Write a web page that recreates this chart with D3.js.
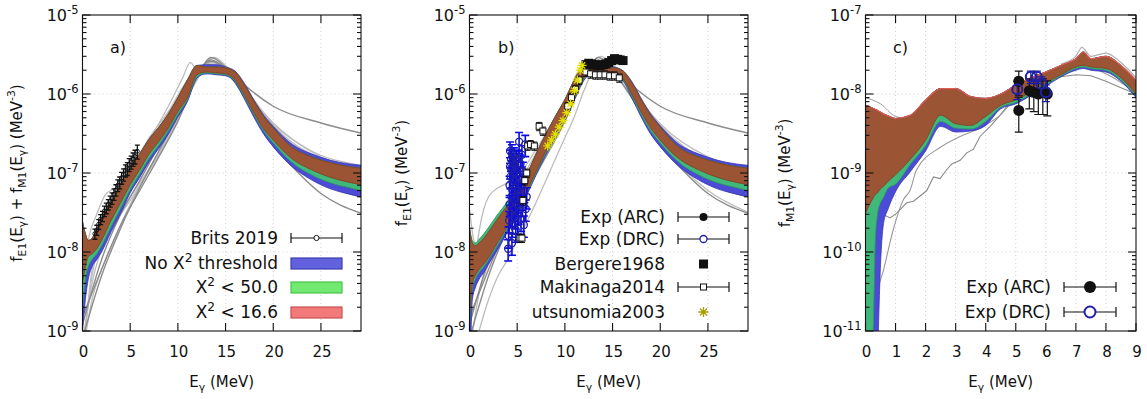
<!DOCTYPE html>
<html>
<head>
<meta charset="utf-8">
<script src="https://cdn.jsdelivr.net/npm/d3@7"></script>
<style>
  body { margin: 0; background: #fff; }
  text { font-family: "DejaVu Sans", Verdana, sans-serif; fill: #111; }
</style>
</head>
<body>
<svg id="chart" width="1147" height="399"></svg>
<script>
// ---------------- panel a) fE1 + fM1 ----------------
const energyAB = [0,0.3,0.6,1,1.5,2,3,4,5,6,7,8,9,10,11,12,13,14,15,16,17,18,19,20,22,24,26,28,29.2];

const redHiA   = [2.4e-8,1.7e-8,1.4e-8,1.5e-8,1.9e-8,2.6e-8,4.2e-8,6.8e-8,1.15e-7,1.75e-7,2.7e-7,3.8e-7,5.6e-7,9.0e-7,1.5e-6,2.3e-6,2.2e-6,2.2e-6,2.15e-6,1.9e-6,1.3e-6,8.0e-7,5.2e-7,3.7e-7,2.1e-7,1.6e-7,1.35e-7,1.2e-7,1.15e-7];
const redLoA   = [4.0e-9,6.5e-9,8.7e-9,9.5e-9,1.1e-8,1.4e-8,2.5e-8,4.2e-8,7.1e-8,1.1e-7,1.75e-7,2.5e-7,3.7e-7,6.0e-7,9.0e-7,1.75e-6,1.9e-6,1.85e-6,1.8e-6,1.5e-6,9.5e-7,5.7e-7,3.6e-7,2.6e-7,1.5e-7,1.1e-7,8.8e-8,7.6e-8,7.1e-8];
const greenHiA = redHiA;
const greenLoA = [2.0e-9,4.5e-9,6.5e-9,8.0e-9,9.5e-9,1.2e-8,2.1e-8,3.6e-8,6.2e-8,9.7e-8,1.55e-7,2.25e-7,3.4e-7,5.5e-7,8.5e-7,1.65e-6,1.85e-6,1.8e-6,1.75e-6,1.45e-6,9.0e-7,5.4e-7,3.4e-7,2.4e-7,1.35e-7,9.5e-8,7.5e-8,6.5e-8,6.0e-8];
const blueHiA  = [2.4e-8,1.7e-8,1.4e-8,1.5e-8,1.9e-8,2.6e-8,4.2e-8,6.8e-8,1.15e-7,1.75e-7,2.7e-7,3.8e-7,5.6e-7,9.0e-7,1.5e-6,2.3e-6,2.35e-6,2.35e-6,2.2e-6,1.95e-6,1.35e-6,8.3e-7,5.4e-7,3.9e-7,2.3e-7,1.75e-7,1.45e-7,1.3e-7,1.25e-7];
const blueLoA  = [1.0e-9,2.5e-9,4.5e-9,6.5e-9,8.0e-9,1.0e-8,1.8e-8,3.1e-8,5.6e-8,8.8e-8,1.4e-7,2.05e-7,3.1e-7,5.1e-7,8.0e-7,1.6e-6,1.8e-6,1.75e-6,1.7e-6,1.4e-6,8.5e-7,5.0e-7,3.1e-7,2.15e-7,1.2e-7,8.2e-8,6.3e-8,5.4e-8,5.0e-8];

// model curves drawn in grey  [E, f]
const greyA1 = [[0,1.5e-9],[2,6e-9],[4,2.2e-8],[6,6e-8],[8,1.6e-7],[10,4.5e-7],[12,1.6e-6],[13.5,2.9e-6],[15,2.2e-6],[17,1.3e-6],[20,7.0e-7],[25,4.3e-7],[29.2,3.2e-7]];
const greyA2 = [[0,8e-10],[2,5e-9],[4,2e-8],[6,6.5e-8],[8,1.9e-7],[10,5.5e-7],[12,1.8e-6],[13.5,2.7e-6],[15,2.0e-6],[17,9e-7],[20,2.2e-7],[22,1.2e-7],[25,5.5e-8],[29.2,3.1e-8]];
const greyA3 = [[0,1.2e-9],[2,8e-9],[4,3e-8],[6,8e-8],[8,2.2e-7],[10,6e-7],[12,1.9e-6],[13.5,2.6e-6],[15,2.1e-6],[17,1.1e-6],[20,3.2e-7],[25,7.8e-8],[29.2,5e-8]];
const greyA4 = [[0,2e-9],[1,1e-8],[2,2.2e-8],[3,4e-8],[5,1.0e-7],[7,2.6e-7],[9,7e-7],[10.5,1.6e-6],[11.3,2.5e-6],[12,2.0e-6],[13,1.8e-6],[14,2.0e-6],[15,1.9e-6],[17,1.1e-6],[20,4.3e-7],[25,1.6e-7],[29.2,1.1e-7]];
const greyA5 = [[0,3e-9],[0.5,1.2e-8],[1.5,3e-8],[2.5,5.5e-8],[3.5,6.5e-8],[5,1.1e-7],[7,2.8e-7],[9,6e-7],[11,1.5e-6],[12.5,2.2e-6],[14,2.1e-6],[16,1.6e-6],[18,8e-7],[20,4.2e-7],[24,1.9e-7],[29.2,1.25e-7]];
const greyA6 = [[0,5e-10],[1,2.5e-9],[2,6e-9],[3,1.2e-8],[4,2.2e-8],[5,4e-8],[7,1.1e-7],[9,3.2e-7],[11,1.0e-6],[12.5,2.0e-6],[13.8,2.9e-6],[15,2.3e-6],[17,1.2e-6],[20,3.8e-7],[25,1.3e-7],[29.2,8e-8]];
const greyA7 = [[0,7e-10],[1,4e-9],[2,1.1e-8],[3,2e-8],[4,3e-8],[5,4.5e-8],[6,7e-8],[8,1.7e-7],[10,4.8e-7],[12,1.5e-6],[13.5,2.5e-6],[15,2.2e-6],[17,1.2e-6],[20,4e-7],[25,1.4e-7],[29.2,9e-8]];
const greyA8 = [[0.2,8e-10],[1,6e-9],[2,1.5e-8],[3,2.5e-8],[4,4e-8],[5,6e-8],[7,1.4e-7],[9,3.8e-7],[11,1.1e-6],[13,2.3e-6],[14,2.4e-6],[16,1.6e-6],[18,8e-7],[20,4e-7],[25,1.5e-7],[29.2,1.0e-7]];
const greyA9 = [[0.3,1e-9],[1,5e-9],[2,1.3e-8],[3,2.2e-8],[4,3.3e-8],[5,5e-8],[6,7.5e-8],[8,1.8e-7],[10,5e-7],[12,1.6e-6],[13.5,2.6e-6],[15,2.2e-6],[17,1.1e-6],[20,3.6e-7],[25,1.2e-7],[29.2,7.5e-8]];

// Brits 2019  [E, f, err]
const brits2019 = [[1.3,1.7e-8,2.5e-9],[1.5,1.9e-8,2.8e-9],[1.7,2.25e-8,3.2e-9],[1.9,2.6e-8,3.8e-9],[2.1,2.85e-8,4.2e-9],[2.3,3.3e-8,5e-9],[2.5,3.6e-8,5.5e-9],[2.7,4.0e-8,6e-9],[2.9,4.4e-8,7e-9],[3.1,4.8e-8,8e-9],[3.3,5.4e-8,9e-9],[3.5,6.1e-8,1e-8],[3.7,7.0e-8,1.2e-8],[3.9,7.6e-8,1.3e-8],[4.1,8.7e-8,1.5e-8],[4.3,9.6e-8,1.7e-8],[4.5,1.08e-7,1.9e-8],[4.7,1.14e-7,2.1e-8],[4.9,1.28e-7,2.4e-8],[5.1,1.38e-7,2.6e-8],[5.3,1.5e-7,2.9e-8],[5.5,1.62e-7,3.2e-8],[5.75,1.88e-7,3.8e-8]];

// ---------------- panel b) fE1 ----------------
const redHiB   = [2.0e-8,1.3e-8,1.2e-8,1.3e-8,1.5e-8,1.8e-8,2.7e-8,3.9e-8,5.6e-8,9.5e-8,1.75e-7,3.1e-7,5.2e-7,8.5e-7,1.5e-6,2.3e-6,2.2e-6,2.15e-6,2.15e-6,2.0e-6,1.4e-6,8.5e-7,5.4e-7,3.8e-7,2.1e-7,1.6e-7,1.35e-7,1.2e-7,1.15e-7];
const redLoB   = [1.5e-9,4.0e-9,5.0e-9,6.0e-9,7.0e-9,8.5e-9,1.35e-8,2.1e-8,3.2e-8,5.8e-8,1.05e-7,1.9e-7,3.2e-7,5.0e-7,9.2e-7,1.6e-6,1.9e-6,1.85e-6,1.8e-6,1.6e-6,1.0e-6,5.9e-7,3.7e-7,2.6e-7,1.5e-7,1.1e-7,8.8e-8,7.6e-8,7.1e-8];
const greenHiB = [2.0e-8,1.4e-8,1.3e-8,1.45e-8,1.7e-8,2.05e-8,3.05e-8,4.3e-8,6.0e-8,9.5e-8,1.75e-7,3.1e-7,5.2e-7,8.5e-7,1.5e-6,2.3e-6,2.2e-6,2.15e-6,2.15e-6,2.0e-6,1.4e-6,8.5e-7,5.4e-7,3.8e-7,2.1e-7,1.6e-7,1.35e-7,1.2e-7,1.15e-7];
const greenLoB = [1.2e-9,3.5e-9,4.5e-9,5.5e-9,6.5e-9,8.0e-9,1.25e-8,2.0e-8,3.0e-8,5.5e-8,1.0e-7,1.8e-7,3.0e-7,4.8e-7,8.8e-7,1.55e-6,1.85e-6,1.8e-6,1.75e-6,1.55e-6,9.5e-7,5.5e-7,3.4e-7,2.4e-7,1.35e-7,9.5e-8,7.5e-8,6.5e-8,6.0e-8];
const blueHiB  = [2.0e-8,1.3e-8,1.2e-8,1.3e-8,1.5e-8,1.8e-8,2.7e-8,3.9e-8,5.6e-8,9.5e-8,1.75e-7,3.1e-7,5.2e-7,8.5e-7,1.5e-6,2.3e-6,2.25e-6,2.2e-6,2.2e-6,2.0e-6,1.45e-6,8.8e-7,5.6e-7,3.95e-7,2.3e-7,1.75e-7,1.45e-7,1.3e-7,1.25e-7];
const blueLoB  = [1.0e-10,2.5e-9,3.5e-9,4.5e-9,5.5e-9,7.0e-9,1.1e-8,1.8e-8,2.8e-8,5.2e-8,9.5e-8,1.7e-7,2.8e-7,4.6e-7,8.5e-7,1.5e-6,1.8e-6,1.75e-6,1.7e-6,1.5e-6,9.0e-7,5.1e-7,3.1e-7,2.15e-7,1.2e-7,8.2e-8,6.3e-8,5.4e-8,5.0e-8];

const greyB1 = [[0,1.5e-9],[2,6e-9],[4,2.2e-8],[6,6e-8],[8,1.6e-7],[10,4.5e-7],[12,1.6e-6],[13.5,2.9e-6],[15,2.2e-6],[17,1.3e-6],[20,7.0e-7],[25,4.3e-7],[29.2,3.2e-7]];
const greyB2 = [[0,8e-10],[2,5e-9],[4,2e-8],[6,6.5e-8],[8,1.9e-7],[10,5.5e-7],[12,1.8e-6],[13.5,2.7e-6],[15,2.0e-6],[17,9e-7],[20,2.2e-7],[22,1.2e-7],[25,5.5e-8],[29.2,3.1e-8]];
const greyB3 = [[0,1.2e-9],[2,8e-9],[4,3e-8],[6,8e-8],[8,2.2e-7],[10,6e-7],[12,1.9e-6],[13.5,2.6e-6],[15,2.1e-6],[17,1.1e-6],[20,3.2e-7],[25,7.8e-8],[29.2,5e-8]];
const greyB4 = [[1,1e-9],[2,2.5e-9],[3,5e-9],[4,8e-9],[5,1.4e-8],[6,2.4e-8],[7,4.3e-8],[8,8e-8],[9,1.5e-7],[10,2.8e-7],[11,5.2e-7],[12,1.1e-6],[13,1.9e-6],[14,2.0e-6],[15,1.8e-6],[17,9e-7],[20,2.5e-7],[25,6e-8],[29.2,3.2e-8]];
const greyB5 = [[0,3.5e-8],[0.4,1.5e-8],[0.8,1.1e-8],[1.5,1.3e-8],[2.5,2.2e-8],[4,4.5e-8],[6,1.1e-7],[8,3.0e-7],[10,8e-7],[11.5,2.0e-6],[12.5,2.3e-6],[14,2.2e-6],[16,1.8e-6],[18,8e-7],[20,4.2e-7],[25,1.6e-7],[29.2,1.15e-7]];
const greyB6 = [[0,2e-9],[0.5,6e-9],[1,1.8e-8],[1.5,3.5e-8],[2,5e-8],[3,6.5e-8],[4,7.5e-8],[5,9e-8],[7,2e-7],[9,5e-7],[11,1.3e-6],[12.5,2.3e-6],[13.8,3.0e-6],[15,2.4e-6],[17,1.2e-6],[20,4e-7],[25,1.4e-7],[29.2,9e-8]];
const greyB7 = [[0,5e-10],[1,3e-9],[2,7e-9],[3,1.3e-8],[4,2.3e-8],[5,3.8e-8],[7,1.0e-7],[9,2.8e-7],[11,8.5e-7],[12.5,1.9e-6],[14,2.5e-6],[15.5,2.0e-6],[18,7e-7],[20,3.5e-7],[25,1.2e-7],[29.2,8e-8]];

// experimental points
const drcRelErr = 0.3;
const drcB = [[4.05,1.1e-8],[4.1,1.6e-8],[4.15,2.5e-8],[4.2,4e-8],[4.2,7e-8],[4.25,1.2e-7],[4.25,1.9e-7],[4.3,3e-8],[4.3,9e-8],[4.35,1.5e-7],[4.4,5e-8],[4.4,1.1e-7],[4.45,1.3e-8],[4.45,1.75e-7],[4.5,6e-8],[4.5,2.2e-8],[4.55,1.35e-7],[4.6,8e-8],[4.6,3.5e-8],[4.65,1.6e-7],[4.7,4.5e-8],[4.7,1.0e-7],[4.75,2.8e-8],[4.8,1.25e-7],[4.8,6.5e-8],[4.85,1.9e-8],[4.9,1.45e-7],[4.9,8.5e-8],[4.95,4e-8],[5.0,1.1e-7],[5.05,2.4e-8],[5.05,6e-8],[5.1,1.5e-7],[5.15,3.2e-8],[5.2,2.5e-7],[5.25,9e-8],[5.3,5.5e-8],[5.35,1.3e-7],[5.4,2.6e-8],[5.45,7e-8],[5.5,1.7e-7],[5.55,4e-8],[5.6,1.05e-7],[5.7,2.2e-8],[5.75,6e-8],[5.85,2.3e-7],[5.9,3.5e-8],[6.0,5e-8]];
const makinagaRelErr = 0.12;
const makinaga2014 = [[5.3,1.5e-8],[5.5,1.5e-8],[5.6,4.5e-8],[5.8,8e-8],[6.0,1.0e-7],[6.1,2.2e-7],[6.4,2.3e-7],[6.8,2.2e-7],[7.3,3.9e-7],[7.7,3.4e-7],[10.3,7e-7],[10.7,9e-7],[11.1,1.15e-6],[11.5,1.5e-6],[12.2,1.9e-6],[12.7,1.8e-6],[13.2,1.75e-6],[13.7,1.75e-6],[14.2,1.75e-6],[14.7,1.7e-6],[15.2,1.7e-6],[15.7,1.6e-6]];
const bergere1968 = [[12.2,2.35e-6],[12.5,2.45e-6],[12.8,2.4e-6],[13.1,2.35e-6],[13.4,2.3e-6],[13.7,2.3e-6],[14.0,2.35e-6],[14.3,2.4e-6],[14.6,2.5e-6],[14.9,2.65e-6],[15.2,2.8e-6],[15.5,2.75e-6],[15.8,2.7e-6],[16.1,2.65e-6]];
const utsunomia2003 = [[8.2,2.2e-7],[8.6,2.6e-7],[9.0,3.1e-7],[9.4,3.8e-7],[9.8,4.6e-7],[10.2,5.8e-7],[10.6,7.5e-7],[11.0,1.1e-6],[11.3,1.5e-6],[11.6,2.0e-6],[11.8,2.3e-6]];

// ---------------- panel c) fM1 ----------------
const energyC = [0,0.25,0.32,0.4,0.5,0.6,0.75,1,1.5,2,2.5,3,3.5,4,4.5,5,5.5,6,6.5,7,7.25,7.5,8,8.5,9];
const redHiC   = [7.2e-9,6.6e-9,6.4e-9,6.2e-9,5.9e-9,5.6e-9,5.3e-9,4.9e-9,5.4e-9,8.4e-9,1.17e-8,1.17e-8,9.3e-9,8.8e-9,1.0e-8,1.3e-8,1.6e-8,1.9e-8,2.3e-8,2.8e-8,3.4e-8,2.8e-8,3.0e-8,2.3e-8,1.5e-8];
const redLoC   = [3.1e-10,4.8e-10,5.3e-10,5.6e-10,6.3e-10,6.8e-10,7.8e-10,9.5e-10,1.5e-9,2.6e-9,5.4e-9,4.2e-9,4.0e-9,5.2e-9,7.2e-9,8.4e-9,1.06e-8,1.38e-8,1.75e-8,2.2e-8,2.3e-8,2.2e-8,2.1e-8,1.6e-8,1.0e-8];
const greenLoC = [1e-12,8e-12,1.2e-10,3.0e-10,4.2e-10,4.9e-10,6.4e-10,7.2e-10,1.3e-9,2.2e-9,4.5e-9,3.7e-9,3.6e-9,4.5e-9,6.8e-9,7.8e-9,1.0e-8,1.3e-8,1.7e-8,2.1e-8,2.2e-8,2.1e-8,2.0e-8,1.5e-8,9.5e-9];
const blueLoC  = [1e-12,1e-12,1e-12,5e-12,7e-11,2.3e-10,3.5e-10,5.8e-10,1.05e-9,1.9e-9,3.9e-9,3.3e-9,3.4e-9,4.0e-9,6.5e-9,7.5e-9,9.6e-9,1.25e-8,1.65e-8,2.0e-8,2.1e-8,2.0e-8,1.9e-8,1.45e-8,9.0e-9];

const greyC1 = [[0.3,2.6e-10],[0.5,3.1e-10],[0.82,2.7e-10],[1.04,3.1e-10],[1.37,4.2e-10],[1.6,4.4e-10],[2.04,6.0e-10],[2.26,8.9e-10],[2.48,8.5e-10],[2.7,1.1e-9],[2.87,1.3e-9],[3.15,1.45e-9],[3.37,1.8e-9],[3.59,2.0e-9],[3.81,2.9e-9],[4.15,3.9e-9],[4.48,5.4e-9],[4.7,6.9e-9],[4.98,8.3e-9],[5.5,1.1e-8],[6,1.4e-8],[6.5,1.65e-8],[7,1.75e-8],[7.5,1.7e-8],[8,1.45e-8],[8.5,1.2e-8],[9,1.0e-8]];
const greyC2 = [[0.35,1e-11],[0.43,3.3e-11],[0.6,5.9e-11],[0.92,1.9e-10],[1.26,4.6e-10],[1.48,6e-10],[1.7,1.1e-9],[2.48,2.1e-9],[3.15,2.9e-9],[3.81,3.7e-9],[4.48,5.4e-9],[5,9e-9],[5.5,1.3e-8],[6,1.7e-8],[6.5,2.0e-8],[7,2.2e-8],[7.5,2.15e-8],[8,1.8e-8],[8.5,1.4e-8],[9,1.05e-8]];
const greyC3 = [[0,9e-9],[0.5,7.5e-9],[1,5.2e-9],[1.5,4.8e-9],[2,6e-9]];
const greyC4 = [[6.5,2.4e-8],[7,3.0e-8],[7.2,3.9e-8],[7.5,3.0e-8],[8,3.3e-8],[8.5,2.5e-8],[9,1.6e-8]];

// [E, f, err]
const arcC = [[5.1,6.2e-9,2.9e-9],[5.1,1.45e-8,5e-9],[5.45,1.1e-8,4.5e-9],[5.6,1.05e-8,4.5e-9],[5.75,1.0e-8,4.5e-9],[5.9,1.05e-8,5e-9],[6.05,1.0e-8,4.7e-9]];
const drcC = [[5.05,1.15e-8,3e-9],[5.5,1.65e-8,3e-9],[5.7,1.65e-8,3e-9],[5.85,1.35e-8,3e-9],[6.0,1.05e-8,2.5e-9]];

// ---------------- drawing ----------------
const svg = d3.select('#chart');
const plotTop = 15, plotBottom = 331;
const col = { blue: '#4b4bd6', green: '#3fb87a', brown: '#9b5434', grey: '#bdbdbd', darkGrey: '#8c8c8c', drc: '#1f1fa8' };

function rich(sel, parts, size) {
  // parts: [text, 'n'|'sub'|'sup']
  let off = 0;
  parts.forEach(([t, kind]) => {
    const target = kind === 'sub' ? 4 : kind === 'sup' ? -7 : 0;
    sel.append('tspan')
      .attr('dy', target - off)
      .attr('font-size', kind === 'n' ? size : size * 0.72)
      .text(t);
    off = target;
  });
}

function panel(opt) {
  const x = d3.scaleLinear().domain([0, opt.xMax]).range([opt.x0, opt.x1]);
  const y = d3.scaleLog().domain(opt.yDomain).range([plotBottom, plotTop]);
  const g = svg.append('g');

  g.append('clipPath').attr('id', 'clip-' + opt.key)
    .append('rect').attr('x', opt.x0).attr('y', plotTop)
    .attr('width', opt.x1 - opt.x0).attr('height', plotBottom - plotTop);

  const decades = y.ticks().filter(v => Math.abs(Math.log10(v) - Math.round(Math.log10(v))) < 1e-6);
  const minors = y.ticks().filter(v => decades.indexOf(v) < 0);
  const xTicks = d3.range(0, opt.xMax + 1e-6, opt.xStep);

  // grid
  const grid = g.append('g').attr('stroke', '#cfcfcf').attr('stroke-dasharray', '1,3').attr('stroke-width', 1);
  decades.slice(1, -1).forEach(v => grid.append('line').attr('x1', opt.x0).attr('x2', opt.x1).attr('y1', y(v)).attr('y2', y(v)));
  xTicks.filter(v => v > 0 && x(v) < opt.x1 - 2).forEach(v => grid.append('line').attr('x1', x(v)).attr('x2', x(v)).attr('y1', plotTop).attr('y2', plotBottom));

  const body = g.append('g').attr('clip-path', 'url(#clip-' + opt.key + ')');
  opt.draw(body, x, y);

  // frame and ticks
  const ax = g.append('g').attr('stroke', '#111').attr('stroke-width', 1.1);
  ax.append('rect').attr('x', opt.x0).attr('y', plotTop).attr('width', opt.x1 - opt.x0).attr('height', plotBottom - plotTop).attr('fill', 'none');
  decades.forEach(v => {
    ax.append('line').attr('x1', opt.x0).attr('x2', opt.x0 + 8).attr('y1', y(v)).attr('y2', y(v));
    ax.append('line').attr('x1', opt.x1).attr('x2', opt.x1 - 8).attr('y1', y(v)).attr('y2', y(v));
  });
  minors.forEach(v => {
    ax.append('line').attr('x1', opt.x0).attr('x2', opt.x0 + 4).attr('y1', y(v)).attr('y2', y(v));
    ax.append('line').attr('x1', opt.x1).attr('x2', opt.x1 - 4).attr('y1', y(v)).attr('y2', y(v));
  });
  xTicks.forEach(v => {
    ax.append('line').attr('x1', x(v)).attr('x2', x(v)).attr('y1', plotBottom).attr('y2', plotBottom - 8);
    ax.append('line').attr('x1', x(v)).attr('x2', x(v)).attr('y1', plotTop).attr('y2', plotTop + 8);
  });

  // tick labels
  decades.forEach(v => {
    const t = g.append('text').attr('x', opt.x0 - 4).attr('y', y(v) + 6).attr('text-anchor', 'end');
    rich(t, [['10', 'n'], [String(Math.round(Math.log10(v))), 'sup']], 16);
  });
  xTicks.forEach(v => {
    g.append('text').attr('x', x(v) + 1).attr('y', 357).attr('text-anchor', 'middle')
      .attr('font-size', 15).text(d3.format('d')(v));
  });

  // axis titles
  const xt = g.append('text').attr('x', (opt.x0 + opt.x1) / 2).attr('y', 387).attr('text-anchor', 'middle');
  rich(xt, [['E', 'n'], ['γ', 'sub'], [' (MeV)', 'n']], 15);
  const yt = g.append('text').attr('text-anchor', 'middle')
    .attr('transform', `translate(${opt.yTitleX},173) rotate(-90)`);
  rich(yt, opt.yTitle, 15);

  g.append('text').attr('x', opt.labelX).attr('y', 53).attr('font-size', 16).text(opt.key + ')');

  return { x, y, g };
}

function band(sel, x, y, energies, lo, hi, fill, edge) {
  const rows = energies.map((e, i) => ({ e, lo: lo[i], hi: hi[i] }));
  sel.append('path').datum(rows)
    .attr('fill', fill).attr('stroke', edge).attr('stroke-width', 0.8)
    .attr('d', d3.area().curve(d3.curveMonotoneX)
      .x(d => x(d.e)).y0(d => y(d.lo)).y1(d => y(d.hi)));
}

function greyLine(sel, x, y, pts, colour, width, curve) {
  sel.append('path').datum(pts)
    .attr('fill', 'none').attr('stroke', colour).attr('stroke-width', width)
    .attr('d', d3.line().curve(curve || d3.curveMonotoneX).x(d => x(d[0])).y(d => y(d[1])));
}

function errBar(sel, x, y, e, lo, hi, colour, cap, w) {
  const s = sel.append('g').attr('stroke', colour).attr('stroke-width', w || 1);
  s.append('line').attr('x1', x(e)).attr('x2', x(e)).attr('y1', y(lo)).attr('y2', y(hi));
  s.append('line').attr('x1', x(e) - cap).attr('x2', x(e) + cap).attr('y1', y(lo)).attr('y2', y(lo));
  s.append('line').attr('x1', x(e) - cap).attr('x2', x(e) + cap).attr('y1', y(hi)).attr('y2', y(hi));
}

function star(sel, cx, cy, r, colour) {
  const a = r * 0.707;
  sel.append('path').attr('fill', 'none').attr('stroke', colour).attr('stroke-width', 1.3)
    .attr('d', `M${cx - r},${cy}L${cx + r},${cy}M${cx},${cy - r}L${cx},${cy + r}M${cx - a},${cy - a}L${cx + a},${cy + a}M${cx - a},${cy + a}L${cx + a},${cy - a}`);
}

// legend helpers
function legendText(x, yy, parts) {
  const t = svg.append('text').attr('x', x).attr('y', yy + 6).attr('text-anchor', 'end');
  rich(t, parts, 17);
}
function legendBar(x0, x1, yy) {
  const s = svg.append('g').attr('stroke', '#111').attr('stroke-width', 1.2);
  s.append('line').attr('x1', x0).attr('x2', x1).attr('y1', yy).attr('y2', yy);
  s.append('line').attr('x1', x0).attr('x2', x0).attr('y1', yy - 5).attr('y2', yy + 5);
  s.append('line').attr('x1', x1).attr('x2', x1).attr('y1', yy - 5).attr('y2', yy + 5);
}
function legendBox(x0, x1, yy, fill, edge) {
  svg.append('rect').attr('x', x0).attr('y', yy - 5).attr('width', x1 - x0).attr('height', 11)
    .attr('fill', fill).attr('stroke', edge).attr('stroke-width', 1.2);
}

// ---- panel a
panel({
  key: 'a', x0: 82.5, x1: 361, xMax: 29.2, xStep: 5, yDomain: [1e-9, 1e-5],
  yTitleX: 22, labelX: 110,
  yTitle: [['f', 'n'], ['E1', 'sub'], ['(E', 'n'], ['γ', 'sub'], [') + f', 'n'], ['M1', 'sub'], ['(E', 'n'], ['γ', 'sub'], [') (MeV', 'n'], ['-3', 'sup'], [')', 'n']],
  draw(b, x, y) {
    [greyA4, greyA5, greyA6, greyA7, greyA8, greyA9].forEach(c => greyLine(b, x, y, c, col.grey, 1.3));
    [greyA1, greyA2, greyA3].forEach(c => greyLine(b, x, y, c, col.darkGrey, 1.4));
    band(b, x, y, energyAB, blueLoA, blueHiA, col.blue, '#3434b8');
    band(b, x, y, energyAB, greenLoA, greenHiA, col.green, '#2e9a60');
    band(b, x, y, energyAB, redLoA, redHiA, col.brown, '#7f3f22');
    brits2019.forEach(d => errBar(b, x, y, d[0], d[1] - d[2], d[1] + d[2], '#111', 2.5, 1.3));
    b.selectAll('circle.brits').data(brits2019).enter().append('circle')
      .attr('cx', d => x(d[0])).attr('cy', d => y(d[1])).attr('r', 2)
      .attr('fill', 'none').attr('stroke', '#111').attr('stroke-width', 1);
  }
});
legendText(278, 238, [['Brits 2019', 'n']]);
legendBar(291, 342, 238);
svg.append('circle').attr('cx', 316.5).attr('cy', 238).attr('r', 2.6).attr('fill', '#fff').attr('stroke', '#111');
legendText(278, 263, [['No X', 'n'], ['2', 'sup'], [' threshold', 'n']]);
legendBox(291, 342, 263, '#6262de', '#3c3cb0');
legendText(278, 287, [['X', 'n'], ['2', 'sup'], [' < 50.0', 'n']]);
legendBox(291, 342, 287, '#72ea72', '#4cc24c');
legendText(278, 312, [['X', 'n'], ['2', 'sup'], [' < 16.6', 'n']]);
legendBox(291, 342, 312, '#f27a7a', '#c85050');

// ---- panel b
panel({
  key: 'b', x0: 469.5, x1: 748, xMax: 29.2, xStep: 5, yDomain: [1e-9, 1e-5],
  yTitleX: 407, labelX: 498,
  yTitle: [['f', 'n'], ['E1', 'sub'], ['(E', 'n'], ['γ', 'sub'], [') (MeV', 'n'], ['-3', 'sup'], [')', 'n']],
  draw(b, x, y) {
    [greyB4, greyB5, greyB6, greyB7].forEach(c => greyLine(b, x, y, c, col.grey, 1.3));
    [greyB1, greyB2, greyB3].forEach(c => greyLine(b, x, y, c, col.darkGrey, 1.4));
    band(b, x, y, energyAB, blueLoB, blueHiB, col.blue, '#3434b8');
    band(b, x, y, energyAB, greenLoB, greenHiB, col.green, '#2e9a60');
    band(b, x, y, energyAB, redLoB, redHiB, col.brown, '#7f3f22');
    drcB.forEach(d => errBar(b, x, y, d[0], d[1] * (1 - drcRelErr), d[1] * (1 + drcRelErr), '#0a0ae0', 4, 1.6));
    b.selectAll('circle.drc').data(drcB).enter().append('circle')
      .attr('cx', d => x(d[0])).attr('cy', d => y(d[1])).attr('r', 3.5)
      .attr('fill', 'none').attr('stroke', col.drc).attr('stroke-width', 1.3);
    makinaga2014.forEach(d => errBar(b, x, y, d[0], d[1] * (1 - makinagaRelErr), d[1] * (1 + makinagaRelErr), '#111', 3, 1));
    b.selectAll('rect.mak').data(makinaga2014).enter().append('rect')
      .attr('x', d => x(d[0]) - 3).attr('y', d => y(d[1]) - 3).attr('width', 6).attr('height', 6)
      .attr('fill', '#fff').attr('stroke', '#111').attr('stroke-width', 1);
    b.selectAll('rect.ber').data(bergere1968).enter().append('rect')
      .attr('x', d => x(d[0]) - 4.5).attr('y', d => y(d[1]) - 4.5).attr('width', 9).attr('height', 9)
      .attr('fill', '#111');
    utsunomia2003.forEach(d => star(b, x(d[0]), y(d[1]), 4.5, '#e2e000'));
  }
});
legendText(665, 217, [['Exp (ARC)', 'n']]);
legendBar(678, 729, 217);
svg.append('circle').attr('cx', 703.5).attr('cy', 217).attr('r', 4).attr('fill', '#111');
legendText(665, 239, [['Exp (DRC)', 'n']]);
legendBar(678, 729, 239);
svg.append('circle').attr('cx', 703.5).attr('cy', 239).attr('r', 3.5).attr('fill', '#fff').attr('stroke', col.drc).attr('stroke-width', 1.3);
legendText(665, 264, [['Bergere1968', 'n']]);
svg.append('rect').attr('x', 699).attr('y', 259.5).attr('width', 9).attr('height', 9).attr('fill', '#111');
legendText(665, 287, [['Makinaga2014', 'n']]);
legendBar(678, 729, 287);
svg.append('rect').attr('x', 700.5).attr('y', 284).attr('width', 6).attr('height', 6).attr('fill', '#fff').attr('stroke', '#111');
legendText(665, 312, [['utsunomia2003', 'n']]);
star(svg, 703.5, 312, 5, '#a89c00');

// ---- panel c
panel({
  key: 'c', x0: 865.5, x1: 1136, xMax: 9, xStep: 1, yDomain: [1e-11, 1e-7],
  yTitleX: 790, labelX: 893,
  yTitle: [['f', 'n'], ['M1', 'sub'], ['(E', 'n'], ['γ', 'sub'], [') (MeV', 'n'], ['-3', 'sup'], [')', 'n']],
  draw(b, x, y) {
    greyLine(b, x, y, greyC1, '#8a8a8a', 1.1, d3.curveLinear);
    greyLine(b, x, y, greyC2, '#9a9a9a', 1.1);
    greyLine(b, x, y, greyC3, '#9a9a9a', 1.0);
    greyLine(b, x, y, greyC4, '#b0b0b0', 1.2);
    band(b, x, y, energyC, blueLoC, redHiC, col.blue, '#3434b8');
    band(b, x, y, energyC, greenLoC, redHiC, col.green, '#2e9a60');
    band(b, x, y, energyC, redLoC, redHiC, col.brown, '#7f3f22');
    greyLine(b, x, y, energyC.map((e, i) => [e, redHiC[i]]), '#e05a5a', 1.2);
    arcC.forEach(d => errBar(b, x, y, d[0], d[1] - d[2], d[1] + d[2], '#111', 4, 1.2));
    drcC.forEach(d => errBar(b, x, y, d[0], d[1] - d[2], d[1] + d[2], '#1a1aa0', 4, 1.2));
    b.selectAll('circle.arc').data(arcC).enter().append('circle')
      .attr('cx', d => x(d[0])).attr('cy', d => y(d[1])).attr('r', 5.5).attr('fill', '#111');
    b.selectAll('circle.drcc').data(drcC).enter().append('circle')
      .attr('cx', d => x(d[0])).attr('cy', d => y(d[1])).attr('r', 5)
      .attr('fill', 'none').attr('stroke', col.drc).attr('stroke-width', 2);
  }
});
legendText(1051, 287, [['Exp (ARC)', 'n']]);
legendBar(1064, 1116, 287);
svg.append('circle').attr('cx', 1090).attr('cy', 287).attr('r', 6).attr('fill', '#111');
legendText(1051, 312, [['Exp (DRC)', 'n']]);
legendBar(1064, 1116, 312);
svg.append('circle').attr('cx', 1090).attr('cy', 312).attr('r', 5.5).attr('fill', '#fff').attr('stroke', col.drc).attr('stroke-width', 2);
</script>
</body>
</html>
